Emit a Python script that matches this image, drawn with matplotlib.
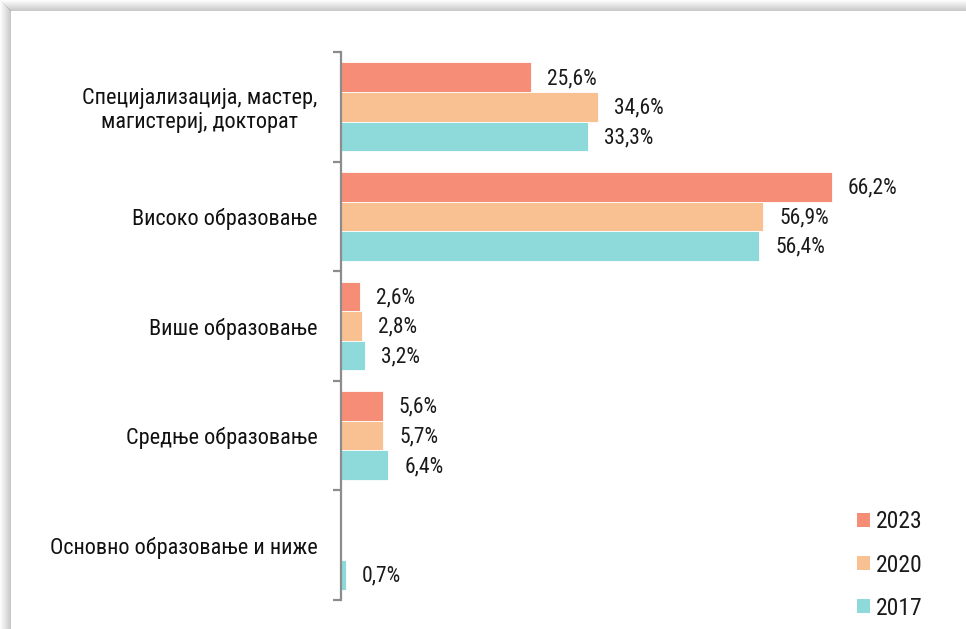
import matplotlib
matplotlib.use("Agg")
import matplotlib.pyplot as plt
from matplotlib.patches import Rectangle, Patch
import numpy as np

categories = ["Специјализација, мастер,\nмагистериј, докторат",
              "Високо образовање",
              "Више образовање",
              "Средње образовање",
              "Основно образовање и ниже"]
years = ["2023", "2020", "2017"]
v2023 = [25.6, 66.2, 2.6, 5.6, None]
v2020 = [34.6, 56.9, 2.8, 5.7, None]
v2017 = [33.3, 56.4, 3.2, 6.4, 0.7]
series = [v2023, v2020, v2017]
colors = ["#F58D77", "#F9C192", "#8ED9D9"]

W, H = 966, 629
fig = plt.figure(figsize=(W / 100, H / 100), dpi=100)
fig.patch.set_facecolor("white")

# frame shadow (left and top)
for i in range(11):
    a = 0.02 + 0.04 * i
    fig.patches.append(Rectangle((i / W, 0), 1 / W, 1 - i / H, transform=fig.transFigure,
                                 facecolor="#808080", alpha=a, edgecolor="none", zorder=0))
    fig.patches.append(Rectangle((i / W, 1 - (i + 1) / H), 1 - i / W, 1 / H, transform=fig.transFigure,
                                 facecolor="#808080", alpha=a, edgecolor="none", zorder=0))

ax_left, ax_top, ax_bot = 341, 52, 600
ax = fig.add_axes([ax_left / W, 1 - ax_bot / H, (W - ax_left) / W, (ax_bot - ax_top) / H])
ax.set_facecolor("none")

px_per_unit = (832 - 341) / 66.2
ax.set_xlim(0, (W - ax_left) / px_per_unit)
ax.set_ylim(len(categories) - 0.5, -0.5)

label_font = ["Roboto Condensed", "PT Sans Narrow", "DejaVu Sans"]

bh = 0.27
y = np.arange(len(categories))
offsets = [-bh, 0, bh]
for vals, col, off, yr in zip(series, colors, offsets, years):
    for yi, v in zip(y, vals):
        if v is None:
            continue
        ax.barh(yi + off, v, height=bh, color=col, edgecolor="white", linewidth=0.6, zorder=2)
        ax.annotate(f"{v:.1f}%".replace(".", ","), xy=(v, yi + off), xytext=(11.5, -1),
                    textcoords="offset points", va="center", ha="left",
                    fontsize=15.5, family=label_font, color="#1a1a1a")

for s in ["top", "right", "bottom"]:
    ax.spines[s].set_visible(False)
ax.spines["left"].set_color("#8c8c8c")
ax.spines["left"].set_linewidth(1.6)
ax.set_xticks([])
ax.set_yticks(y)
ax.set_yticklabels(categories, family=label_font, fontsize=16, color="#111111",
                   linespacing=1.15, ha="right", multialignment="center")
ax.tick_params(axis="y", which="major", length=0, pad=17)
ax.set_yticks(np.arange(-0.5, len(categories), 1), minor=True)
ax.tick_params(axis="y", which="minor", length=6, width=1.6, color="#8c8c8c")

handles = [Patch(facecolor=c, edgecolor="none") for c in colors]
leg = fig.legend(handles, years, loc="center left",
                 bbox_to_anchor=(857 / W, 1 - 565 / H), bbox_transform=fig.transFigure,
                 frameon=False, borderpad=0, borderaxespad=0, handlelength=0.55,
                 handleheight=0.55, handletextpad=0.25, labelspacing=0.85,
                 prop={"family": label_font, "size": 17})
for t in leg.get_texts():
    t.set_color("#1a1a1a")

fig.savefig("out.png", dpi=100, facecolor="white")
